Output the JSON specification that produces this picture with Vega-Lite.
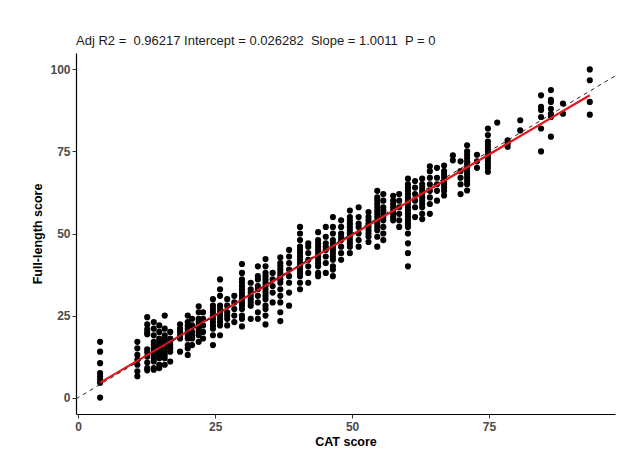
{
  "$schema": "https://vega.github.io/schema/vega-lite/v6.json",
  "autosize": {"type": "none"},
  "padding": {"left": 76, "top": 53, "right": 15, "bottom": 52},
  "width": 539,
  "height": 361,
  "background": "white",
  "title": {
    "text": "Adj R2 = \u00a00.96217 Intercept = 0.026282 \u00a0Slope = 1.0011 \u00a0P = 0",
    "anchor": "start",
    "frame": "group",
    "font": "Liberation Sans",
    "fontSize": 13,
    "fontWeight": "normal",
    "color": "#1a1a1a",
    "baseline": "alphabetic",
    "offset": -5
  },
  "config": {
    "view": {"stroke": null},
    "axis": {
      "grid": false,
      "domainColor": "black",
      "domainWidth": 1.2,
      "tickColor": "#333333",
      "tickSize": 4,
      "labelFont": "Liberation Sans",
      "labelFontSize": 12,
      "labelFontWeight": "bold",
      "labelColor": "#4d4d4d",
      "titleFont": "Liberation Sans",
      "titleFontSize": 12.5,
      "titleFontWeight": "bold",
      "titleColor": "#000000"
    }
  },
  "datasets": {
    "pts": [
      {"cat":4,"full":0},{"cat":4,"full":4.5},{"cat":4,"full":5.5},{"cat":4,"full":6.5},{"cat":4,"full":7.5},{"cat":4,"full":10.5},{"cat":4,"full":14},{"cat":4,"full":17},
      {"cat":10.8,"full":6.5},{"cat":10.8,"full":8},{"cat":10.8,"full":10},{"cat":10.8,"full":11.5},{"cat":10.8,"full":13},{"cat":10.8,"full":15},{"cat":10.8,"full":17},
      {"cat":12.6,"full":8.3},{"cat":12.6,"full":9},{"cat":12.6,"full":10.7},{"cat":12.6,"full":12.5},{"cat":12.6,"full":13.8},{"cat":12.6,"full":14.7},{"cat":12.6,"full":19.3},{"cat":12.6,"full":19.9},{"cat":12.6,"full":20.8},{"cat":12.6,"full":22.3},{"cat":12.6,"full":24.5},
      {"cat":13.8,"full":8.5},{"cat":13.8,"full":9},{"cat":13.8,"full":11},{"cat":13.8,"full":12},{"cat":13.8,"full":13},{"cat":13.8,"full":13.5},{"cat":13.8,"full":14},{"cat":13.8,"full":15},{"cat":13.8,"full":16},{"cat":13.8,"full":17},{"cat":13.8,"full":19},{"cat":13.8,"full":21},{"cat":13.8,"full":23},
      {"cat":14.8,"full":9},{"cat":14.8,"full":10},{"cat":14.8,"full":12},{"cat":14.8,"full":13},{"cat":14.8,"full":14},{"cat":14.8,"full":15},{"cat":14.8,"full":16},{"cat":14.8,"full":17},{"cat":14.8,"full":18},{"cat":14.8,"full":20},{"cat":14.8,"full":22},
      {"cat":15.8,"full":10},{"cat":15.8,"full":12},{"cat":15.8,"full":13},{"cat":15.8,"full":14},{"cat":15.8,"full":15},{"cat":15.8,"full":16},{"cat":15.8,"full":17},{"cat":15.8,"full":18},{"cat":15.8,"full":19},{"cat":15.8,"full":21},{"cat":15.8,"full":25},
      {"cat":16.8,"full":11},{"cat":16.8,"full":14},{"cat":16.8,"full":15},{"cat":16.8,"full":16},{"cat":16.8,"full":17},{"cat":16.8,"full":18},{"cat":16.8,"full":20},
      {"cat":18.6,"full":14},{"cat":18.6,"full":18},{"cat":18.6,"full":19},{"cat":18.6,"full":20},{"cat":18.6,"full":21},{"cat":18.6,"full":22.3},
      {"cat":20,"full":13},{"cat":20,"full":15},{"cat":20,"full":16},{"cat":20,"full":18},{"cat":20,"full":19},{"cat":20,"full":20},{"cat":20,"full":21},{"cat":20,"full":22},{"cat":20,"full":23},{"cat":20,"full":25},
      {"cat":20.8,"full":16},{"cat":20.8,"full":18},{"cat":20.8,"full":19},{"cat":20.8,"full":20},{"cat":20.8,"full":22},{"cat":20.8,"full":24},
      {"cat":22,"full":17},{"cat":22,"full":19},{"cat":22,"full":20},{"cat":22,"full":21},{"cat":22,"full":22},{"cat":22,"full":23},{"cat":22,"full":24},{"cat":22,"full":26},{"cat":22,"full":27.8},
      {"cat":22.8,"full":18},{"cat":22.8,"full":20},{"cat":22.8,"full":22},{"cat":22.8,"full":24},{"cat":22.8,"full":26},
      {"cat":24.6,"full":16},{"cat":24.6,"full":19},{"cat":24.6,"full":21},{"cat":24.6,"full":22},{"cat":24.6,"full":23},{"cat":24.6,"full":24},{"cat":24.6,"full":25},{"cat":24.6,"full":26},{"cat":24.6,"full":27},{"cat":24.6,"full":28},{"cat":24.6,"full":30},
      {"cat":25.9,"full":19},{"cat":25.9,"full":22},{"cat":25.9,"full":23},{"cat":25.9,"full":24},{"cat":25.9,"full":25},{"cat":25.9,"full":26},{"cat":25.9,"full":27},{"cat":25.9,"full":28},{"cat":25.9,"full":31},{"cat":25.9,"full":33},{"cat":25.9,"full":36},
      {"cat":27.2,"full":22},{"cat":27.2,"full":24},{"cat":27.2,"full":25},{"cat":27.2,"full":26},{"cat":27.2,"full":28},{"cat":27.2,"full":30},
      {"cat":28.5,"full":23},{"cat":28.5,"full":25},{"cat":28.5,"full":27},{"cat":28.5,"full":29},{"cat":28.5,"full":31},
      {"cat":29.9,"full":21.7},{"cat":29.9,"full":24},{"cat":29.9,"full":25},{"cat":29.9,"full":27},{"cat":29.9,"full":28},{"cat":29.9,"full":29},{"cat":29.9,"full":30},{"cat":29.9,"full":31},{"cat":29.9,"full":32},{"cat":29.9,"full":33},{"cat":29.9,"full":34},{"cat":29.9,"full":35},{"cat":29.9,"full":36},{"cat":29.9,"full":38},{"cat":29.9,"full":40.7},
      {"cat":31.5,"full":24},{"cat":31.5,"full":28},{"cat":31.5,"full":29},{"cat":31.5,"full":30},{"cat":31.5,"full":31},{"cat":31.5,"full":32},{"cat":31.5,"full":33},{"cat":31.5,"full":35},
      {"cat":32.8,"full":24},{"cat":32.8,"full":26},{"cat":32.8,"full":29},{"cat":32.8,"full":31},{"cat":32.8,"full":33},{"cat":32.8,"full":34},{"cat":32.8,"full":36},{"cat":32.8,"full":37},{"cat":32.8,"full":40},
      {"cat":34.2,"full":22.3},{"cat":34.2,"full":25},{"cat":34.2,"full":27},{"cat":34.2,"full":28},{"cat":34.2,"full":30},{"cat":34.2,"full":31},{"cat":34.2,"full":32},{"cat":34.2,"full":33},{"cat":34.2,"full":34},{"cat":34.2,"full":35},{"cat":34.2,"full":36},{"cat":34.2,"full":37},{"cat":34.2,"full":38},{"cat":34.2,"full":40},{"cat":34.2,"full":42.2},
      {"cat":35.5,"full":29},{"cat":35.5,"full":32},{"cat":35.5,"full":34},{"cat":35.5,"full":36},{"cat":35.5,"full":38},
      {"cat":36.9,"full":23.3},{"cat":36.9,"full":26},{"cat":36.9,"full":29},{"cat":36.9,"full":31},{"cat":36.9,"full":33},{"cat":36.9,"full":35},{"cat":36.9,"full":36},{"cat":36.9,"full":37},{"cat":36.9,"full":38},{"cat":36.9,"full":39},{"cat":36.9,"full":40},{"cat":36.9,"full":41},{"cat":36.9,"full":42.7},
      {"cat":38.5,"full":28},{"cat":38.5,"full":32},{"cat":38.5,"full":35},{"cat":38.5,"full":37},{"cat":38.5,"full":39},{"cat":38.5,"full":41},{"cat":38.5,"full":43},{"cat":38.5,"full":45},
      {"cat":40.5,"full":33},{"cat":40.5,"full":35},{"cat":40.5,"full":37},{"cat":40.5,"full":38},{"cat":40.5,"full":39},{"cat":40.5,"full":40},{"cat":40.5,"full":41},{"cat":40.5,"full":42},{"cat":40.5,"full":43},{"cat":40.5,"full":44},{"cat":40.5,"full":45},{"cat":40.5,"full":46},{"cat":40.5,"full":48},{"cat":40.5,"full":50},{"cat":40.5,"full":52},
      {"cat":42,"full":35},{"cat":42,"full":38},{"cat":42,"full":40},{"cat":42,"full":42},{"cat":42,"full":44},{"cat":42,"full":46},{"cat":42,"full":47},
      {"cat":43.8,"full":37},{"cat":43.8,"full":38},{"cat":43.8,"full":40},{"cat":43.8,"full":41},{"cat":43.8,"full":42},{"cat":43.8,"full":43},{"cat":43.8,"full":44},{"cat":43.8,"full":45},{"cat":43.8,"full":46},{"cat":43.8,"full":47},{"cat":43.8,"full":48},{"cat":43.8,"full":50.4},
      {"cat":45.2,"full":38},{"cat":45.2,"full":41},{"cat":45.2,"full":43},{"cat":45.2,"full":45},{"cat":45.2,"full":46},{"cat":45.2,"full":47},{"cat":45.2,"full":49},{"cat":45.2,"full":52},
      {"cat":46.5,"full":37},{"cat":46.5,"full":39},{"cat":46.5,"full":40},{"cat":46.5,"full":42},{"cat":46.5,"full":43},{"cat":46.5,"full":44},{"cat":46.5,"full":45},{"cat":46.5,"full":46},{"cat":46.5,"full":47},{"cat":46.5,"full":48},{"cat":46.5,"full":50},{"cat":46.5,"full":52},{"cat":46.5,"full":55},
      {"cat":48,"full":42},{"cat":48,"full":44},{"cat":48,"full":46},{"cat":48,"full":48},{"cat":48,"full":49},{"cat":48,"full":50},{"cat":48,"full":52},{"cat":48,"full":54},
      {"cat":49.6,"full":44},{"cat":49.6,"full":46},{"cat":49.6,"full":47},{"cat":49.6,"full":48},{"cat":49.6,"full":49},{"cat":49.6,"full":50},{"cat":49.6,"full":51},{"cat":49.6,"full":52},{"cat":49.6,"full":53},{"cat":49.6,"full":54},{"cat":49.6,"full":55},{"cat":49.6,"full":57},
      {"cat":51.2,"full":46},{"cat":51.2,"full":48},{"cat":51.2,"full":50},{"cat":51.2,"full":52},{"cat":51.2,"full":53},{"cat":51.2,"full":55},{"cat":51.2,"full":58},
      {"cat":53,"full":47.4},{"cat":53,"full":49},{"cat":53,"full":50},{"cat":53,"full":51},{"cat":53,"full":52},{"cat":53,"full":53},{"cat":53,"full":54},{"cat":53,"full":55},{"cat":53,"full":56.5},
      {"cat":54.6,"full":46},{"cat":54.6,"full":49},{"cat":54.6,"full":51},{"cat":54.6,"full":52},{"cat":54.6,"full":53},{"cat":54.6,"full":54},{"cat":54.6,"full":55},{"cat":54.6,"full":56},{"cat":54.6,"full":57},{"cat":54.6,"full":58},{"cat":54.6,"full":59},{"cat":54.6,"full":60},{"cat":54.6,"full":61},{"cat":54.6,"full":63},
      {"cat":55.7,"full":48},{"cat":55.7,"full":50},{"cat":55.7,"full":52},{"cat":55.7,"full":54},{"cat":55.7,"full":55},{"cat":55.7,"full":56},{"cat":55.7,"full":57},{"cat":55.7,"full":58},{"cat":55.7,"full":60},{"cat":55.7,"full":62},
      {"cat":57.5,"full":54},{"cat":57.5,"full":55},{"cat":57.5,"full":56},{"cat":57.5,"full":57},{"cat":57.5,"full":58},{"cat":57.5,"full":59},{"cat":57.5,"full":60},{"cat":57.5,"full":61.5},
      {"cat":58.6,"full":52},{"cat":58.6,"full":54},{"cat":58.6,"full":56},{"cat":58.6,"full":58},{"cat":58.6,"full":60},{"cat":58.6,"full":62},
      {"cat":60.2,"full":40},{"cat":60.2,"full":44},{"cat":60.2,"full":47},{"cat":60.2,"full":50},{"cat":60.2,"full":52},{"cat":60.2,"full":53},{"cat":60.2,"full":54},{"cat":60.2,"full":55},{"cat":60.2,"full":56},{"cat":60.2,"full":57},{"cat":60.2,"full":58},{"cat":60.2,"full":59},{"cat":60.2,"full":60},{"cat":60.2,"full":61},{"cat":60.2,"full":62},{"cat":60.2,"full":63},{"cat":60.2,"full":64},{"cat":60.2,"full":65},{"cat":60.2,"full":66.7},
      {"cat":61.5,"full":55},{"cat":61.5,"full":58},{"cat":61.5,"full":60},{"cat":61.5,"full":62},{"cat":61.5,"full":64},{"cat":61.5,"full":66},
      {"cat":62.8,"full":54.4},{"cat":62.8,"full":56},{"cat":62.8,"full":58},{"cat":62.8,"full":59},{"cat":62.8,"full":60},{"cat":62.8,"full":61},{"cat":62.8,"full":62},{"cat":62.8,"full":63},{"cat":62.8,"full":64},{"cat":62.8,"full":65},{"cat":62.8,"full":66.7},
      {"cat":64.2,"full":56},{"cat":64.2,"full":59},{"cat":64.2,"full":61},{"cat":64.2,"full":63},{"cat":64.2,"full":65},{"cat":64.2,"full":67},{"cat":64.2,"full":69},{"cat":64.2,"full":70.5},
      {"cat":65.5,"full":60},{"cat":65.5,"full":63},{"cat":65.5,"full":65},{"cat":65.5,"full":67},{"cat":65.5,"full":70},
      {"cat":66.8,"full":61.6},{"cat":66.8,"full":63},{"cat":66.8,"full":64},{"cat":66.8,"full":65},{"cat":66.8,"full":66},{"cat":66.8,"full":67},{"cat":66.8,"full":68},{"cat":66.8,"full":69},{"cat":66.8,"full":70.7},
      {"cat":68.4,"full":72.3},{"cat":68.4,"full":73.8},
      {"cat":69.8,"full":62},{"cat":69.8,"full":65},{"cat":69.8,"full":67},{"cat":69.8,"full":69},{"cat":69.8,"full":72},
      {"cat":71,"full":63.1},{"cat":71,"full":65},{"cat":71,"full":66},{"cat":71,"full":67},{"cat":71,"full":68},{"cat":71,"full":69},{"cat":71,"full":70},{"cat":71,"full":71},{"cat":71,"full":72},{"cat":71,"full":73},{"cat":71,"full":74},{"cat":71,"full":75},{"cat":71,"full":76.9},
      {"cat":72.8,"full":70},{"cat":72.8,"full":72},{"cat":72.8,"full":74},
      {"cat":74.8,"full":68.8},{"cat":74.8,"full":70},{"cat":74.8,"full":71},{"cat":74.8,"full":72},{"cat":74.8,"full":73},{"cat":74.8,"full":74},{"cat":74.8,"full":75},{"cat":74.8,"full":76},{"cat":74.8,"full":77},{"cat":74.8,"full":78},{"cat":74.8,"full":80},{"cat":74.8,"full":82},
      {"cat":76.5,"full":83.8},
      {"cat":78.4,"full":76.4},{"cat":78.4,"full":77.4},{"cat":78.4,"full":78.4},
      {"cat":80.7,"full":81.4},{"cat":80.7,"full":84.5},
      {"cat":84.5,"full":75},{"cat":84.5,"full":82},{"cat":84.5,"full":85.5},{"cat":84.5,"full":87.6},{"cat":84.5,"full":88.6},{"cat":84.5,"full":92.1},
      {"cat":86.3,"full":79.5},{"cat":86.3,"full":85.5},{"cat":86.3,"full":86.5},{"cat":86.3,"full":88},{"cat":86.3,"full":90.1},{"cat":86.3,"full":90.7},{"cat":86.3,"full":93.7},
      {"cat":88.5,"full":86.5},{"cat":88.5,"full":89.6},
      {"cat":93.4,"full":86.2},{"cat":93.4,"full":90.1},{"cat":93.4,"full":96.7},{"cat":93.4,"full":100}
    ],
    "diag": [{"cat": -0.4, "full": -0.4}, {"cat": 98, "full": 98}]
  },
  "layer": [
    {
      "data": {"name": "pts"},
      "mark": {"type": "circle", "size": 38, "color": "black", "opacity": 1},
      "encoding": {
        "x": {"field": "cat", "type": "quantitative", "title": "CAT score",
              "scale": {"domain": [-0.4, 98], "nice": false, "zero": false},
              "axis": {"values": [0, 25, 50, 75], "labelPadding": 3, "titlePadding": 3}},
        "y": {"field": "full", "type": "quantitative", "title": "Full-length score",
              "scale": {"domain": [-5, 105], "nice": false, "zero": false},
              "axis": {"values": [0, 25, 50, 75, 100], "labelPadding": 2, "titlePadding": 5}}
      }
    },
    {
      "data": {"name": "pts"},
      "transform": [{"regression": "full", "on": "cat"}],
      "mark": {"type": "line", "color": "#e8141c", "strokeWidth": 2.2},
      "encoding": {
        "x": {"field": "cat", "type": "quantitative"},
        "y": {"field": "full", "type": "quantitative"}
      }
    },
    {
      "data": {"name": "diag"},
      "mark": {"type": "line", "color": "#222222", "strokeWidth": 1, "strokeDash": [4, 4], "clip": true},
      "encoding": {
        "x": {"field": "cat", "type": "quantitative"},
        "y": {"field": "full", "type": "quantitative"}
      }
    }
  ]
}
